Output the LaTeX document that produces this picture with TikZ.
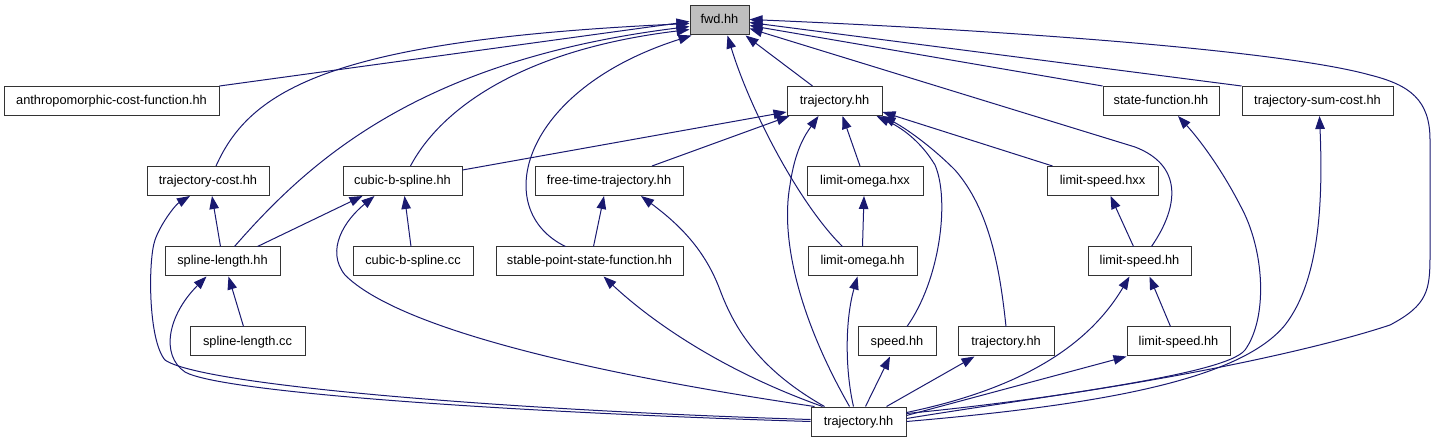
\documentclass[tikz,border=0pt]{standalone}
\usepackage{fontspec}
\setmainfont{Liberation Sans}
\usetikzlibrary{arrows.meta,calc}
\definecolor{edgeblue}{HTML}{191970}
\definecolor{hlgray}{HTML}{BFBFBF}
\begin{document}
\begin{tikzpicture}[x=1pt,y=-1pt,
  filebox/.style={draw=black!80, line width=1pt, fill=white, minimum height=29pt,
    inner sep=0pt, text height=9pt, text depth=2pt,
    font=\fontsize{12.8}{14}\selectfont},
  dep/.style={draw=edgeblue, line width=1pt, -{Triangle[length=13pt,width=9.5pt]}}]
\useasboundingbox (0,0) rectangle (1437,443);
% nodes
\node[filebox, fill=hlgray, minimum width=59pt] (fwd) at (719.5,20.5) {fwd.hh};
\node[filebox, minimum width=215pt] (anthro) at (111.5,101) {anthropomorphic-cost-function.hh};
\node[filebox, minimum width=95pt] (trajT) at (834.5,101) {trajectory.hh};
\node[filebox, minimum width=116pt] (statef) at (1161,101) {state-function.hh};
\node[filebox, minimum width=151pt] (tsum) at (1317.5,101) {trajectory-sum-cost.hh};
\node[filebox, minimum width=122pt] (tcost) at (208,181) {trajectory-cost.hh};
\node[filebox, minimum width=119pt] (cbsh) at (402.5,181) {cubic-b-spline.hh};
\node[filebox, minimum width=148pt] (ftt) at (609,181) {free-time-trajectory.hh};
\node[filebox, minimum width=116pt] (lohxx) at (865,181) {limit-omega.hxx};
\node[filebox, minimum width=111pt] (lshxx) at (1102.5,181) {limit-speed.hxx};
\node[filebox, minimum width=115pt] (slh) at (222.5,261.5) {spline-length.hh};
\node[filebox, minimum width=120pt] (cbscc) at (413,261.5) {cubic-b-spline.cc};
\node[filebox, minimum width=187pt] (spsf) at (589.5,261.5) {stable-point-state-function.hh};
\node[filebox, minimum width=109pt] (loh) at (862.5,261.5) {limit-omega.hh};
\node[filebox, minimum width=103pt] (lsh1) at (1139.5,261.5) {limit-speed.hh};
\node[filebox, minimum width=115pt] (slcc) at (247.5,341.5) {spline-length.cc};
\node[filebox, minimum width=78pt] (speed) at (897,341.5) {speed.hh};
\node[filebox, minimum width=96pt] (trajM) at (1006,341.5) {trajectory.hh};
\node[filebox, minimum width=103pt] (lsh2) at (1178.5,341.5) {limit-speed.hh};
\node[filebox, minimum width=95pt] (trajB) at (858.5,421.5) {trajectory.hh};
% edges to fwd.hh
\draw[dep] (anthro.north east) -- ($(fwd.west)+(0,1)$);
\draw[dep] ($(tcost.north)+(8,0)$) .. controls (250,90) and (330,40) .. ($(fwd.west)+(0,3)$);
\draw[dep] ($(slh.north)+(12,0)$) .. controls (310,160) and (420,60) .. ($(fwd.west)+(0,6)$);
\draw[dep] ($(cbsh.north)+(8,0)$) .. controls (440,110) and (520,50) .. ($(fwd.west)+(0,9)$);
\draw[dep] ($(spsf.north)+(-24,0)$) .. controls (490,210) and (520,90) .. ($(fwd.south west)+(2,0)$);
\draw[dep] ($(loh.north)+(-20,0)$) .. controls (800,205) and (750,110) .. ($(fwd.south)+(8,0)$);
\draw[dep] ($(trajT.north)+(-22,0)$) -- ($(fwd.south east)+(-4,0)$);
\draw[dep] ($(lsh1.north)+(12,0)$) .. controls (1180,205) and (1182,165) .. (1135,147) -- ($(fwd.east)+(0,8)$);
\draw[dep] (statef.north west) -- ($(fwd.east)+(0,5)$);
\draw[dep] (tsum.north west) -- ($(fwd.east)+(0,2)$);
\draw[dep] ($(trajB.east)+(0,-8)$) .. controls (1100,395) and (1300,355) .. (1390,325)
  .. controls (1428,305) and (1430,290) .. (1430,255) -- (1430,140)
  .. controls (1430,100) and (1410,85) .. (1370,75)
  .. controls (1280,50) and (1000,30) .. ($(fwd.east)+(0,-1)$);
% edges to trajectory.hh (top)
\draw[dep] ($(cbsh.north east)+(0,4)$) -- ($(trajT.west)+(0,11)$);
\draw[dep] ($(ftt.north)+(43,0)$) -- ($(trajT.south west)+(3,0)$);
\draw[dep] ($(trajB.north)+(-9,0)$) .. controls (800,320) and (780,240) .. (790,185)
  .. controls (795,150) and (805,135) .. ($(trajT.south)+(-16,0)$);
\draw[dep] ($(lohxx.north)+(-5,0)$) -- ($(trajT.south)+(8,0)$);
\draw[dep] ($(speed.north)+(10,0)$) .. controls (940,280) and (950,200) .. (935,165)
  .. controls (920,140) and (900,127) .. ($(trajT.south east)+(-6,0)$);
\draw[dep] (trajM.north) .. controls (1000,270) and (990,210) .. (955,170)
  .. controls (930,145) and (905,128) .. (trajT.south east);
\draw[dep] ($(lshxx.north)+(-50,0)$) -- ($(trajT.east)+(0,11)$);
% edges to trajectory-cost.hh
\draw[dep] ($(slh.north)+(-2,0)$) -- ($(tcost.south)+(4,0)$);
\draw[dep] ($(trajB.west)+(0,-2)$) .. controls (500,410) and (200,385) .. (165,360)
  .. controls (148,340) and (148,260) .. (155,240)
  .. controls (160,225) and (175,205) .. ($(tcost.south)+(-18,0)$);
% edges to cubic-b-spline.hh
\draw[dep] ($(slh.north)+(35,0)$) -- ($(cbsh.south)+(-40,0)$);
\draw[dep] ($(trajB.north west)+(4,0)$) .. controls (600,375) and (400,330) .. (345,275)
  .. controls (325,250) and (345,220) .. ($(cbsh.south)+(-28,0)$);
\draw[dep] ($(cbscc.north)+(-2,0)$) -- ($(cbsh.south)+(2,0)$);
% edges to free-time-trajectory.hh
\draw[dep] ($(spsf.north)+(4,0)$) -- ($(ftt.south)+(-5,0)$);
\draw[dep] ($(trajB.north west)+(14,0)$) .. controls (760,370) and (735,330) .. (720,290)
  .. controls (705,250) and (680,225) .. ($(ftt.south)+(32,0)$);
% edges to spline-length.hh
\draw[dep] ($(slcc.north)+(-4,0)$) -- ($(slh.south)+(6,0)$);
\draw[dep] (trajB.west) .. controls (500,412) and (220,392) .. (185,372)
  .. controls (160,355) and (168,315) .. ($(slh.south)+(-16,0)$);
% edge to stable-point-state-function.hh
\draw[dep] ($(trajB.north west)+(12,0)$) .. controls (720,370) and (650,320) .. ($(spsf.south)+(14,0)$);
% limit-omega
\draw[dep] (loh.north) -- ($(lohxx.south)+(-1,0)$);
\draw[dep] ($(trajB.north)+(-5,0)$) .. controls (845,370) and (845,320) .. ($(loh.south)+(-5,0)$);
% speed, trajectory (mid)
\draw[dep] ($(trajB.north)+(7,0)$) -- ($(speed.south)+(-7,0)$);
\draw[dep] ($(trajB.north east)+(-20,0)$) -- ($(trajM.south west)+(17,0)$);
% limit-speed
\draw[dep] ($(lsh1.north)+(-6,0)$) -- ($(lshxx.south)+(8,0)$);
\draw[dep] ($(lsh2.north)+(-8,0)$) -- ($(lsh1.south)+(10,0)$);
\draw[dep] ($(trajB.east)+(0,-9)$) .. controls (1005,392) and (1083,355) .. ($(lsh1.south)+(-10,0)$);
\draw[dep] ($(trajB.east)+(0,-6)$) -- (lsh2.south west);
% state-function, trajectory-sum-cost
\draw[dep] ($(trajB.east)+(0,-3)$) .. controls (1050,395) and (1225,375) .. (1245,350)
  .. controls (1268,318) and (1265,250) .. (1240,205)
  .. controls (1222,170) and (1200,140) .. ($(statef.south)+(17,0)$);
\draw[dep] (trajB.east) .. controls (1100,405) and (1240,380) .. (1285,325)
  .. controls (1320,280) and (1323,200) .. ($(tsum.south)+(2,0)$);
\end{tikzpicture}
\end{document}
